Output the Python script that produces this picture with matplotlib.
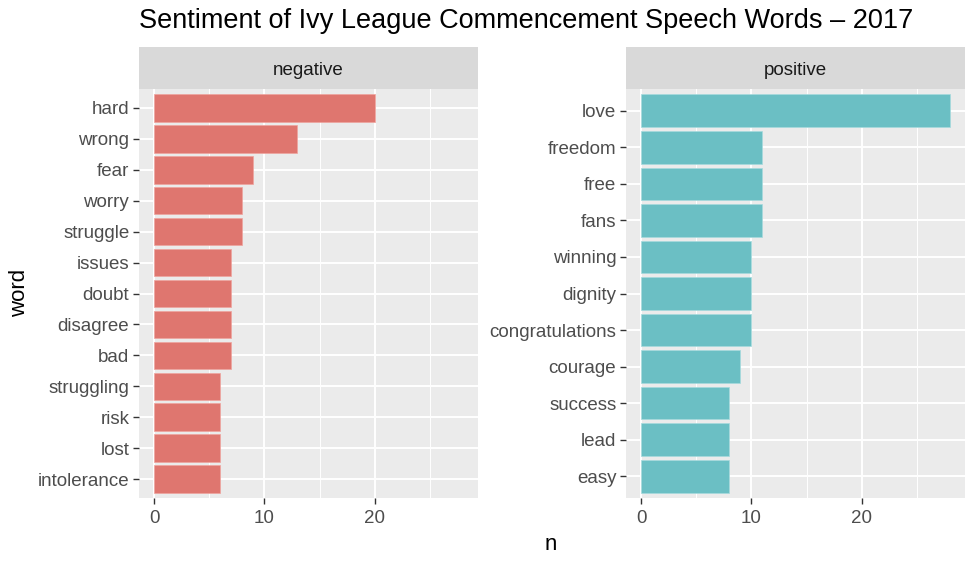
import matplotlib
matplotlib.use('Agg')
import matplotlib.pyplot as plt
import numpy as np

plt.rcParams['font.family'] = ['Liberation Sans', 'DejaVu Sans']

neg_words = ['hard', 'wrong', 'fear', 'worry', 'struggle', 'issues', 'doubt',
             'disagree', 'bad', 'struggling', 'risk', 'lost', 'intolerance']
neg_counts = [20, 13, 9, 8, 8, 7, 7, 7, 7, 6, 6, 6, 6]

pos_words = ['love', 'freedom', 'free', 'fans', 'winning', 'dignity',
             'congratulations', 'courage', 'success', 'lead', 'easy']
pos_counts = [28, 11, 11, 11, 10, 10, 10, 9, 8, 8, 8]

panels = [('negative', neg_words, neg_counts, '#DF766F', '#EFA49E'),
          ('positive', pos_words, pos_counts, '#6BBFC4', '#A6DADD')]

W, H = 975, 562
fig = plt.figure(figsize=(W / 100, H / 100), dpi=100)

x_max = max(max(neg_counts), max(pos_counts))
x_lo, x_hi = -0.05 * x_max, x_max * 1.05


def px_rect(x0, y0, x1, y1):
    return [x0 / W, 1 - y1 / H, (x1 - x0) / W, (y1 - y0) / H]


panel_x = [(139, 478), (626, 965)]
top, strip_top, bottom = 89, 47, 498

for (name, words, counts, color, edge), (x0, x1) in zip(panels, panel_x):
    ax = fig.add_axes(px_rect(x0, top, x1, bottom))
    ax.set_facecolor('#EBEBEB')
    n = len(words)
    ypos = np.arange(n)[::-1]
    ax.set_xlim(x_lo, x_hi)
    ax.set_ylim(-0.6, n - 1 + 0.6)
    for v in [5, 15, 25]:
        ax.axvline(v, color='white', lw=0.7, zorder=1)
    for v in [0, 10, 20]:
        ax.axvline(v, color='white', lw=1.4, zorder=1)
    for y in ypos:
        ax.axhline(y, color='white', lw=1.4, zorder=1)
    ax.barh(ypos, counts, height=0.9, color=color, edgecolor=edge,
            linewidth=0.5, zorder=2)
    ax.set_yticks(ypos)
    ax.set_yticklabels(words)
    ax.set_xticks([0, 10, 20])
    ax.tick_params(axis='both', length=4, width=1, color='#333333',
                   labelcolor='#4D4D4D', labelsize=13.5, pad=3)
    ax.tick_params(axis='x', pad=4.5)
    for s in ax.spines.values():
        s.set_visible(False)

    sax = fig.add_axes(px_rect(x0, strip_top, x1, top))
    sax.set_facecolor('#D9D9D9')
    sax.set_xticks([])
    sax.set_yticks([])
    for s in sax.spines.values():
        s.set_visible(False)
    sax.text(0.5, 0.45, name, ha='center', va='center', fontsize=13.5,
             color='#1A1A1A', transform=sax.transAxes)

fig.text(139 / W, 1 - 21 / H, 'Sentiment of Ivy League Commencement Speech Words \u2013 2017',
         ha='left', va='center', fontsize=19.5, color='black')
fig.text(551 / W, 1 - 545 / H, 'n', ha='center', va='center', fontsize=16)
fig.text(20 / W, 1 - 293 / H, 'word', ha='center', va='center', fontsize=16, rotation=90)

fig.savefig('out.png', dpi=100)
